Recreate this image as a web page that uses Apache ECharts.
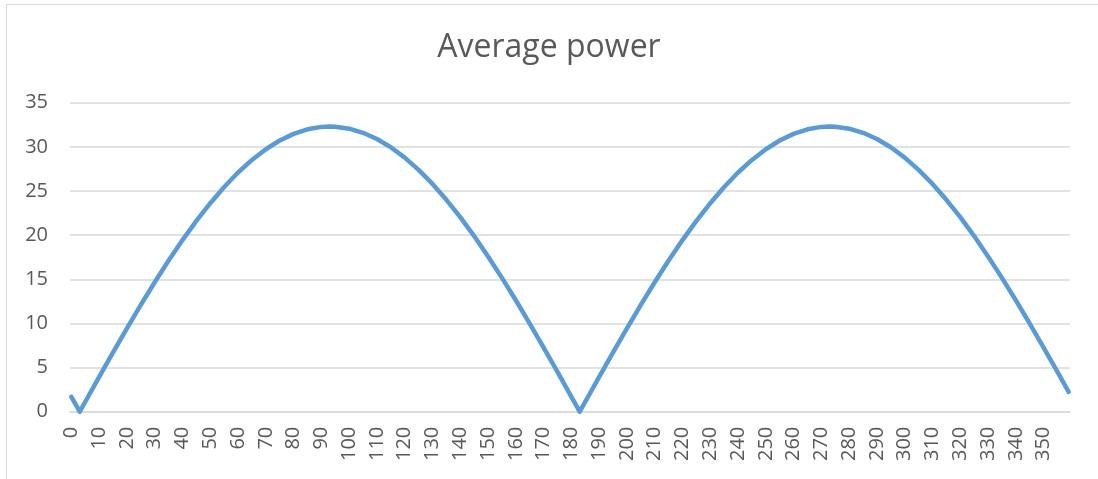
<!DOCTYPE html>
<html>
<head>
<meta charset="utf-8">
<script src="https://cdn.jsdelivr.net/npm/echarts@6/dist/echarts.min.js"></script>
<style>
html,body{margin:0;padding:0;background:#fff;}
#frame{position:absolute;left:6px;top:4px;width:1100px;height:480px;border-left:1px solid #d9d9d9;border-top:1px solid #d9d9d9;}
#chart{position:absolute;left:0;top:0;width:1098px;height:479px;}
</style>
</head>
<body>
<div id="frame"></div>
<div id="chart"></div>
<script>
// Angle categories 0..359 (degrees)
const categories = Array.from({length: 360}, (_, i) => String(i));
// Sampled readings: angle (category index) and average power
const sampleAngles = [0, 3, 5, 10, 15, 20, 25, 30, 35, 40, 45, 50, 55, 60, 65, 70, 75, 80, 85, 90, 93, 95,
  100, 105, 110, 115, 120, 125, 130, 135, 140, 145, 150, 155, 160, 165, 170, 175, 180, 183, 185,
  190, 195, 200, 205, 210, 215, 220, 225, 230, 235, 240, 245, 250, 255, 260, 265, 270, 273, 275,
  280, 285, 290, 295, 300, 305, 310, 315, 320, 325, 330, 335, 340, 345, 350, 355, 359];
const sampleValues = [1.69, 0, 1.13, 3.94, 6.72, 9.44, 12.10, 14.66, 17.12, 19.44, 21.61, 23.62, 25.45, 27.09, 28.52, 29.73, 30.72, 31.47, 31.99, 32.26, 32.3, 32.28,
  32.06, 31.59, 30.89, 29.95, 28.78, 27.39, 25.80, 24.00, 22.03, 19.89, 17.59, 15.16, 12.62, 9.98, 7.27, 4.50, 1.69, 0, 1.13,
  3.94, 6.72, 9.44, 12.10, 14.66, 17.12, 19.44, 21.61, 23.62, 25.45, 27.09, 28.52, 29.73, 30.72, 31.47, 31.99, 32.26, 32.3, 32.28,
  32.06, 31.59, 30.89, 29.95, 28.78, 27.39, 25.80, 24.00, 22.03, 19.89, 17.59, 15.16, 12.62, 9.98, 7.27, 4.50, 2.25];
const yTicks = [0, 5, 10, 15, 20, 25, 30, 35];
const titleText = 'Average power';

const seriesData = sampleAngles.map((a, i) => [a, sampleValues[i]]);
const font = 'Open Sans';
const chart = echarts.init(document.getElementById('chart'), null, {renderer: 'canvas'});
chart.setOption({
  animation: false,
  backgroundColor: 'transparent',
  title: {
    text: titleText, left: 'center', top: 27,
    textStyle: {fontFamily: font, fontSize: 32, fontWeight: 'normal', color: '#595959'}
  },
  grid: {left: 70, right: 28, top: 102.7, bottom: 67.3, containLabel: false},
  xAxis: {
    type: 'category', data: categories, boundaryGap: true,
    axisLine: {show: true, lineStyle: {color: '#d9d9d9', width: 1.5}},
    axisTick: {show: false},
    axisLabel: {
      interval: 9, rotate: 90, margin: 15,
      fontFamily: font, fontSize: 20, color: '#595959'
    },
    splitLine: {show: false}
  },
  yAxis: {
    type: 'value', min: yTicks[0], max: yTicks[yTicks.length - 1], interval: 5,
    axisLine: {show: false}, axisTick: {show: false},
    axisLabel: {margin: 22, fontFamily: font, fontSize: 20, color: '#595959'},
    splitLine: {lineStyle: {color: '#d9d9d9', width: 1.5}}
  },
  series: [{
    type: 'line', data: seriesData, showSymbol: false, smooth: false,
    lineStyle: {color: '#5b9bd5', width: 4.5, cap: 'round', join: 'round'}
  }]
});
</script>
</body>
</html>
